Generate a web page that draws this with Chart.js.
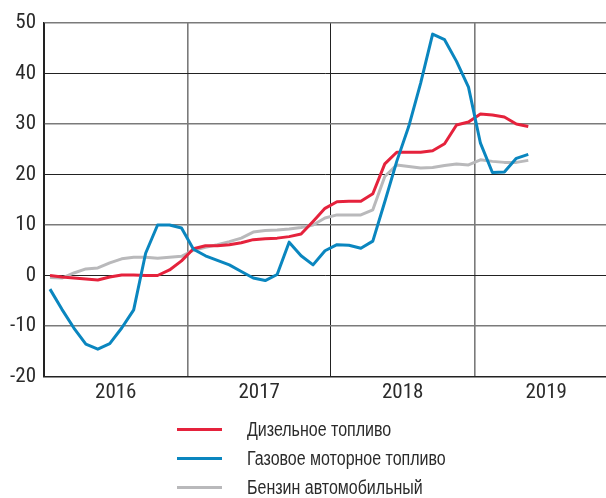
<!DOCTYPE html>
<html><head><meta charset="utf-8">
<script src="https://cdn.jsdelivr.net/npm/chart.js@4"></script>
<style>
html,body{margin:0;padding:0;background:#fff;}
#wrap{position:relative;width:606px;height:498px;overflow:hidden;}
canvas{position:absolute;left:0;top:0;}
.item{position:absolute;left:177px;height:30px;display:flex;align-items:center;white-space:nowrap;}
.item .sw{width:45px;height:3px;margin-right:25px;flex:none;}
.item .tx{display:inline-block;font-family:'Liberation Sans',Arial,sans-serif;font-size:19.5px;color:#2b2b2b;transform:scaleX(0.82);transform-origin:0 50%;}
</style></head>
<body><div id="wrap"><canvas id="c" width="606" height="498"></canvas></div>
<script>
// Monthly categories, Jan 2016 .. May 2019
const months = [
 '2016-01','2016-02','2016-03','2016-04','2016-05','2016-06','2016-07','2016-08','2016-09','2016-10','2016-11','2016-12',
 '2017-01','2017-02','2017-03','2017-04','2017-05','2017-06','2017-07','2017-08','2017-09','2017-10','2017-11','2017-12',
 '2018-01','2018-02','2018-03','2018-04','2018-05','2018-06','2018-07','2018-08','2018-09','2018-10','2018-11','2018-12',
 '2019-01','2019-02','2019-03','2019-04','2019-05'];
const yearLabels = ['2016','2017','2018','2019'];
const seriesLabels = ['Дизельное топливо','Газовое моторное топливо','Бензин автомобильный'];
const diesel = [0.0,-0.3,-0.5,-0.7,-0.9,-0.3,0.1,0.1,0.0,0.0,1.1,2.9,
 5.3,5.9,5.9,6.1,6.5,7.1,7.3,7.4,7.7,8.2,10.7,13.3,
 14.6,14.7,14.7,16.2,22.1,24.4,24.4,24.4,24.7,26.1,29.8,30.4,
 32.0,31.8,31.4,30.0,29.5];
const gas = [-2.7,-6.7,-10.4,-13.6,-14.6,-13.5,-10.4,-6.8,4.4,10.0,10.0,9.4,
 5.2,3.9,3.0,2.1,0.8,-0.5,-1.0,0.2,6.6,3.9,2.1,4.9,
 6.1,6.0,5.4,6.8,14.6,22.6,29.5,38.1,47.8,46.7,42.4,37.3,
 26.2,20.4,20.5,23.2,24.0];
const petrol = [-0.4,-0.5,0.5,1.3,1.5,2.5,3.3,3.6,3.6,3.4,3.6,3.8,
 5.0,5.6,6.1,6.7,7.4,8.6,8.9,9.0,9.2,9.5,10.0,11.4,
 12.0,12.0,12.0,13.0,19.6,21.9,21.6,21.3,21.4,21.8,22.1,21.9,
 22.9,22.6,22.4,22.4,22.8];
const colors = ['#e5223c','#0a86bf','#b9b9bb'];

const toPts = arr => arr.map((v,i)=>({x:i+0.5,y:v}));
const series = [diesel, gas, petrol];
const orders = [1,0,2];
const FONT = "'Roboto Condensed','Liberation Sans Narrow','Arial Narrow','DejaVu Sans Condensed',sans-serif";

new Chart(document.getElementById('c'), {
  type:'line',
  data:{datasets: series.map((s,k)=>({
    label: seriesLabels[k], data: toPts(s), borderColor: colors[k], backgroundColor: colors[k],
    borderWidth:3, pointRadius:0, tension:0, fill:false, order: orders[k], borderJoinStyle:'round'
  }))},
  options:{
    responsive:false, animation:false, devicePixelRatio:1,
    layout:{padding:{top:23,left:0,right:0,bottom:0}},
    plugins:{legend:{display:false}, tooltip:{enabled:false}},
    scales:{
      x:{type:'linear', min:0, max:47,
        afterBuildTicks: s => { s.ticks = [0,6,12,18,24,30,36,42].map(v=>({value:v})); },
        afterFit: s => { s.height = 121.5; },
        grid:{drawTicks:false,
          color: c => (c.tick && c.tick.value%12===0) ? ((c.tick.value%24===0) ? '#222' : '#7a7a7a') : 'rgba(0,0,0,0)',
          lineWidth: c => (c.tick && c.tick.value%24===0) ? 1 : 1.6},
        border:{display:true,color:'#222',width:1.5},
        ticks:{padding:4, color:'#2b2b2b', font:{family:FONT,size:21},
          maxRotation:0, autoSkip:false,
          callback: v => (v%12===6) ? yearLabels[(v-6)/12] : ''}
      },
      y:{min:-20,max:50,
        afterFit: s => { s.width = 44; },
        grid:{drawTicks:false,
          color: c => (c.tick && c.tick.value%20===0) ? '#222' : '#7a7a7a',
          lineWidth: c => (c.tick && c.tick.value%20===0) ? 1 : 1.6},
        border:{display:true,color:'#222',width:1.5},
        ticks:{stepSize:10,padding:8,color:'#2b2b2b',font:{family:FONT,size:21}}
      }
    }
  }
});

// HTML legend built from the series labels
const wrap = document.getElementById('wrap');
const legY = [429,458,487];
seriesLabels.forEach((lab,k)=>{
  const d = document.createElement('div'); d.className='item';
  d.style.top = (legY[k]-15)+'px';
  const sw = document.createElement('span'); sw.className='sw'; sw.style.background = colors[k];
  const t = document.createElement('span'); t.className='tx'; t.textContent = lab;
  d.appendChild(sw); d.appendChild(t); wrap.appendChild(d);
});
</script>
</body></html>
